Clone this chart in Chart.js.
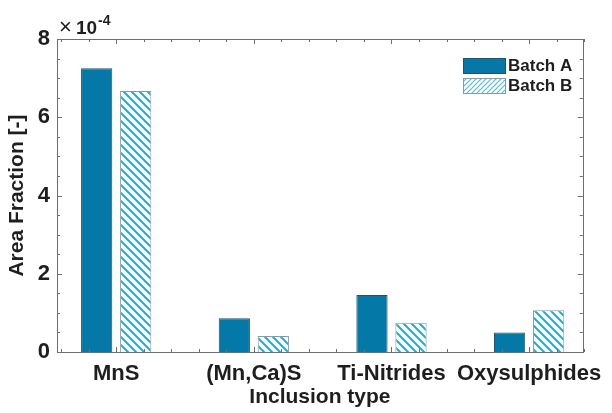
<!DOCTYPE html>
<html>
<head>
<meta charset="utf-8">
<script src="https://cdn.jsdelivr.net/npm/chart.js@4.4.0/dist/chart.umd.min.js"></script>
<style>
    html, body { margin: 0; padding: 0; background: #fff; }
    #wrap { width: 612px; height: 413px; }
</style>
</head>
<body>
<div id="wrap"><canvas id="myChart"></canvas></div>
<script>
// values (area fraction, x10^-4 shown on the axis)
const inclusionTypes = ['MnS', '(Mn,Ca)S', 'Ti-Nitrides', 'Oxysulphides'];
const batchA = [7.25e-4, 0.86e-4, 1.46e-4, 0.50e-4];
const batchB = [6.67e-4, 0.41e-4, 0.75e-4, 1.07e-4];
const yTicks = [0, 2e-4, 4e-4, 6e-4, 8e-4];
const seriesNames = ['Batch A', 'Batch B'];

const textColor = '#1e1e1e';
const axisColor = '#6e6e6e';
const fontFamily = '"Liberation Sans", Arial, Helvetica, sans-serif';

// diagonal hatch like the matlab hatchfill
function makeHatch(size, color, lineWidth, forward) {
    let c = document.createElement('canvas');
    c.width = size;
    c.height = size;
    let g = c.getContext('2d');
    g.fillStyle = '#ffffff';
    g.fillRect(0, 0, size, size);
    g.strokeStyle = color;
    g.lineWidth = lineWidth;
    g.beginPath();
    if (forward) {
        // "///"
        g.moveTo(-1, size + 1); g.lineTo(size + 1, -1);
        g.moveTo(-1, 1); g.lineTo(1, -1);
        g.moveTo(size - 1, size + 1); g.lineTo(size + 1, size - 1);
    } else {
        // "\\\"
        g.moveTo(-1, -1); g.lineTo(size + 1, size + 1);
        g.moveTo(size - 1, -1); g.lineTo(size + 1, 1);
        g.moveTo(-1, size - 1); g.lineTo(1, size + 1);
    }
    g.stroke();
    return g.createPattern(c, 'repeat');
}

let ctx = document.getElementById('myChart').getContext('2d');
let hatchBar = makeHatch(8, '#2aa7c9', 2, false);
let hatchLegend = makeHatch(5, '#58bcd6', 1.2, true);

// box, inward ticks, legend and exponent label (matlab style)
const matlabAxes = {
    id: 'matlabAxes',
    afterDatasetsDraw(chart) {
        let c = chart.ctx;
        let area = chart.chartArea;
        let xs = chart.scales.x;
        let ys = chart.scales.y;
        c.save();
        c.strokeStyle = axisColor;
        c.lineWidth = 1;

        function tick(px, isX, len) {
            if (isX) {
                c.moveTo(px, area.bottom); c.lineTo(px, area.bottom - len);
                c.moveTo(px, area.top); c.lineTo(px, area.top + len);
            } else {
                c.moveTo(area.left, px); c.lineTo(area.left + len, px);
                c.moveTo(area.right, px); c.lineTo(area.right - len, px);
            }
        }

        c.beginPath();
        for (let i = 6; i <= 44; i += 2) {
            let v = i / 10;
            let major = Math.abs(v - Math.round(v)) < 1e-6;
            let px = Math.round(xs.getPixelForValue(v)) + 0.5;
            tick(px, true, major ? 5 : 3);
        }
        for (let i = 0; i <= 16; i++) {
            let v = i * 0.5e-4;
            let major = i % 4 === 0;
            let py = Math.round(ys.getPixelForValue(v)) + 0.5;
            tick(py, false, major ? 5 : 3);
        }
        c.stroke();

        c.strokeRect(Math.round(area.left) + 0.5, Math.round(area.top) + 0.5,
            Math.round(area.right - area.left), Math.round(area.bottom - area.top));

        // legend
        let lx = 463, ly = 58;
        chart.data.datasets.forEach((ds, i) => {
            let y = ly + i * 20;
            c.fillStyle = i === 0 ? ds.backgroundColor : hatchLegend;
            c.fillRect(lx, y, 42, 15);
            c.strokeStyle = i === 0 ? '#2b4f5f' : '#8a9aa2';
            c.strokeRect(lx + 0.5, y + 0.5, 42, 15);
            c.fillStyle = textColor;
            c.font = 'bold 17px ' + fontFamily;
            c.textBaseline = 'middle';
            c.textAlign = 'left';
            c.fillText(ds.label, lx + 45, y + 8);
        });

        // exponent label
        c.fillStyle = textColor;
        c.textBaseline = 'alphabetic';
        c.textAlign = 'left';
        c.font = '22px ' + fontFamily;
        c.fillText('\u00d7', 59, 34);
        c.font = 'bold 19px ' + fontFamily;
        c.fillText('10', 76, 34);
        c.font = 'bold 14px ' + fontFamily;
        c.fillText('-4', 98, 25);
        c.restore();
    }
};

let myChart = new Chart(ctx, {
    type: 'bar',
    data: {
        datasets: [{
            label: seriesNames[0],
            data: batchA.map((v, i) => ({ x: i + 1, y: v })),
            backgroundColor: '#0478a7',
            borderColor: '#2b4f5f',
            borderWidth: 1
        }, {
            label: seriesNames[1],
            data: batchB.map((v, i) => ({ x: i + 1, y: v })),
            backgroundColor: hatchBar,
            borderColor: '#8a9aa2',
            borderWidth: 1
        }]
    },
    options: {
        responsive: true,
        maintainAspectRatio: false,
        animation: false,
        layout: { padding: { top: 39, right: 17, left: 0, bottom: 0 } },
        datasets: {
            bar: { categoryPercentage: 0.567, barPercentage: 0.8 }
        },
        plugins: {
            legend: { display: false },
            tooltip: { enabled: false }
        },
        scales: {
            x: {
                type: 'linear',
                offset: false,
                min: 0.57,
                max: 4.39,
                afterBuildTicks: (scale) => {
                    scale.ticks = inclusionTypes.map((_, i) => ({ value: i + 1 }));
                },
                afterFit: (scale) => { scale.height = 61; },
                grid: { display: false, drawTicks: false, offset: false },
                border: { display: false },
                ticks: {
                    autoSkip: false,
                    maxRotation: 0,
                    padding: 9,
                    color: textColor,
                    font: { family: fontFamily, size: 22, weight: 'bold' },
                    callback: (value) => inclusionTypes[Math.round(value) - 1]
                },
                title: {
                    display: true,
                    text: 'Inclusion type',
                    color: textColor,
                    padding: { top: 0, bottom: 3 },
                    font: { family: fontFamily, size: 21, weight: 'bold' }
                }
            },
            y: {
                min: 0,
                max: 8e-4,
                afterBuildTicks: (scale) => {
                    scale.ticks = yTicks.map(v => ({ value: v }));
                },
                afterFit: (scale) => { scale.width = 57; },
                grid: { display: false, drawTicks: false },
                border: { display: false },
                ticks: {
                    padding: 7,
                    color: textColor,
                    font: { family: fontFamily, size: 22, weight: 'bold' },
                    callback: (value) => String(Math.round(value / 1e-4))
                },
                title: {
                    display: true,
                    text: 'Area Fraction [-]',
                    color: textColor,
                    padding: { top: 5, bottom: 0 },
                    font: { family: fontFamily, size: 21, weight: 'bold' }
                }
            }
        }
    },
    plugins: [matlabAxes]
});
</script>
</body>
</html>
